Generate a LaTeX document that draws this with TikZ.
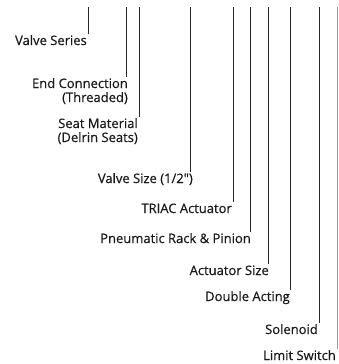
\documentclass[tikz,border=0pt]{standalone}
\usepackage{fontspec}
\setmainfont{Open Sans}
\newfontfamily\calloutfont{Open Sans}[FakeBold=0.5]
\usepackage{tikz}
\tikzstyle{callout} = [anchor=base east, inner sep=1pt, align=right, font=\calloutfont\fontsize{13}{14}\selectfont, text=black!90]
\tikzstyle{leader} = [draw=black!85, line width=0.8pt]

\begin{document}
\begin{tikzpicture}[x=1pt, y=-1pt]
\useasboundingbox (0,0) rectangle (338,364);

\node (series) [callout] at (88,45) {Valve Series};
\node (conn) [callout] at (129,102) {End Connection\\(Threaded)};
\node (seat) [callout] at (139,142) {Seat Material\\(Delrin Seats)};
\node (size) [callout] at (194,183) {Valve Size (1/2\symbol{34})};
\node (triac) [callout] at (233,213) {TRIAC Actuator};
\node (rack) [callout] at (252,243) {Pneumatic Rack \& Pinion};
\node (actsize) [callout] at (270,275) {Actuator Size};
\node (double) [callout] at (291,301) {Double Acting};
\node (sol) [callout] at (319,334) {Solenoid};
\node (limit) [callout] at (337,360) {Limit Switch};

\coordinate (t1) at (88,7);
\coordinate (t2) at (126,7);
\coordinate (t3) at (139,7);
\coordinate (t4) at (190,7);
\coordinate (t5) at (233,7);
\coordinate (t6) at (250,7);
\coordinate (t7) at (268,7);
\coordinate (t8) at (290,7);
\coordinate (t9) at (319,7);
\coordinate (t10) at (337,7);

\draw [leader] (t1) -- (t1 |- series.north);
\draw [leader] (t2) -- (t2 |- conn.north);
\draw [leader] (t3) -- (t3 |- seat.north);
\draw [leader] (t4) -- (t4 |- size.north);
\draw [leader] (t5) -- (t5 |- triac.north);
\draw [leader] (t6) -- (t6 |- rack.north);
\draw [leader] (t7) -- (t7 |- actsize.north);
\draw [leader] (t8) -- (t8 |- double.north);
\draw [leader] (t9) -- (t9 |- sol.north);
\draw [leader, draw=black!40] (t10) -- (t10 |- limit.north);

\end{tikzpicture}
\end{document}
